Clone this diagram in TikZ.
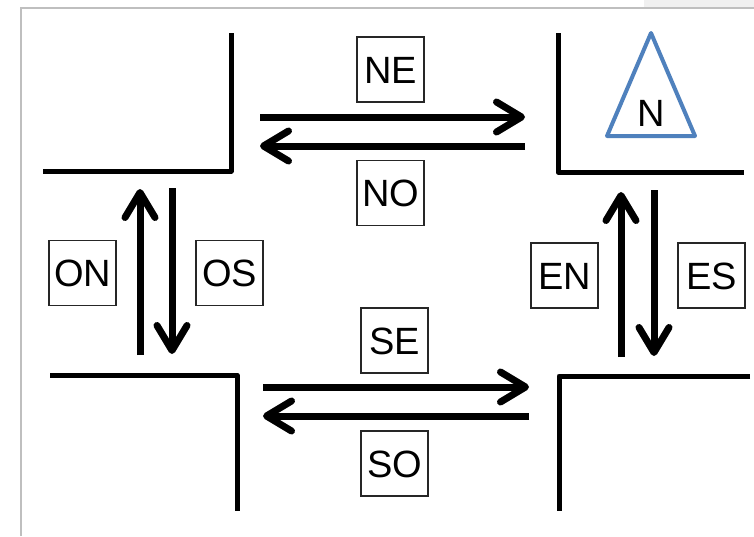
\documentclass[tikz,border=0pt]{standalone}
\usepackage{fontspec}
\setmainfont{Liberation Sans}
\usetikzlibrary{arrows.meta}
\definecolor{triblue}{RGB}{79,129,189}
\begin{document}
\begin{tikzpicture}[x=1pt,y=-1pt,
 wall/.style={line width=5pt, line join=round},
 flow/.style={line width=7pt, -{Straight Barb[length=25pt,width=30pt,round]}},
 lbl/.style={draw=black!85, line width=1.3pt, minimum width=67pt, minimum height=65pt, inner sep=0pt, text height=27.5pt, text depth=0pt, font=\fontsize{38}{40}\selectfont},
]
\useasboundingbox (0,0) rectangle (754,536);
\fill[white] (0,0) rectangle (754,536);
\fill[black!6] (644,0) rectangle (754,8);
\draw[black!25, line width=2pt] (21,536) -- (21,8) -- (754,8);

% corners
\draw[wall] (43,171) -- (231,171) -- (231,33);
\draw[wall] (558,33) -- (558,172) -- (744,172);
\draw[wall] (50,375) -- (237,375) -- (237,511);
\draw[wall] (750,376) -- (559,376) -- (559,511);

% arrow end points
\coordinate (neA) at (260,117); \coordinate (neB) at (525,117);
\coordinate (noA) at (525,146); \coordinate (noB) at (260,146);
\coordinate (seA) at (263,387); \coordinate (seB) at (529,387);
\coordinate (soA) at (529,416); \coordinate (soB) at (263,416);
\coordinate (onA) at (140,355); \coordinate (onB) at (140,189);
\coordinate (osA) at (172,188); \coordinate (osB) at (172,354);
\coordinate (enA) at (621,357); \coordinate (enB) at (621,192);
\coordinate (esA) at (654,190); \coordinate (esB) at (654,356);

\draw[flow] (neA) -- (neB);
\draw[flow] (noA) -- (noB);
\draw[flow] (seA) -- (seB);
\draw[flow] (soA) -- (soB);
\draw[flow] (onA) -- (onB);
\draw[flow] (osA) -- (osB);
\draw[flow] (enA) -- (enB);
\draw[flow] (esA) -- (esB);

% labels
\node[lbl] (NE) at (390.5,69.5) {NE};
\node[lbl] (NO) at (390.5,193) {NO};
\node[lbl] (ON) at (82.5,273) {ON};
\node[lbl] (OS) at (229.5,273) {OS};
\node[lbl] (SE) at (394.5,340.5) {SE};
\node[lbl] (SO) at (394.5,463.5) {SO};
\node[lbl] (EN) at (564.5,275.5) {EN};
\node[lbl] (ES) at (711.5,275.5) {ES};

% north sign
\draw[triblue, line width=4pt, line join=round] (651,33) -- (695,136) -- (607,136) -- cycle;
\node[inner sep=0pt, text height=27.5pt, text depth=0pt, font=\fontsize{38}{40}\selectfont] (N) at (651,113) {N};
\end{tikzpicture}
\end{document}
